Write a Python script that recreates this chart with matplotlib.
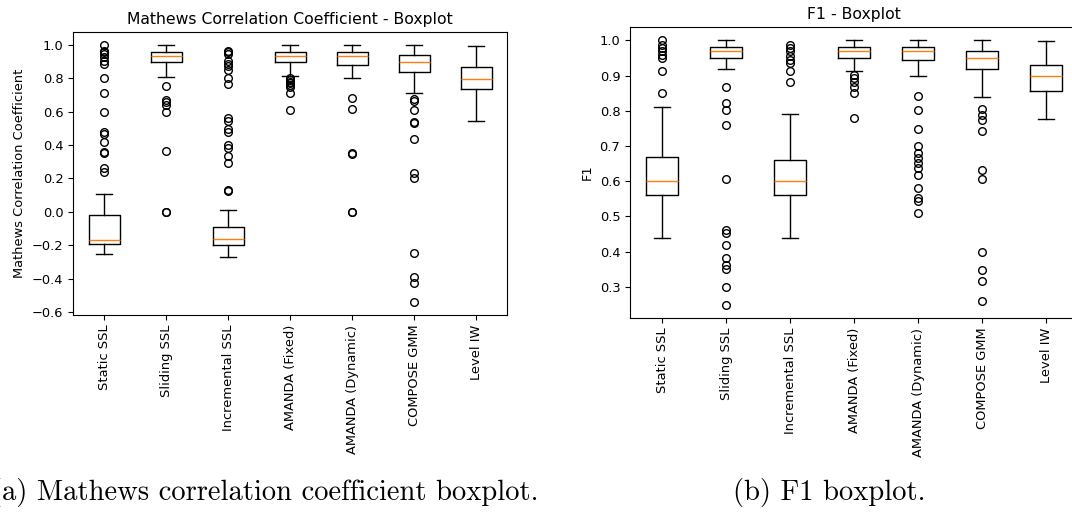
import matplotlib.pyplot as plt

methods = ["Static SSL", "Sliding SSL", "Incremental SSL", "AMANDA (Fixed)",
           "AMANDA (Dynamic)", "COMPOSE GMM", "Level IW"]

# Mathews correlation coefficient - box statistics per method
mcc_whislo = [-0.25, 0.81, -0.27, 0.815, 0.80, 0.71, 0.545]
mcc_q1 = [-0.19, 0.90, -0.20, 0.90, 0.88, 0.835, 0.735]
mcc_med = [-0.17, 0.935, -0.16, 0.935, 0.935, 0.895, 0.795]
mcc_q3 = [-0.02, 0.96, -0.09, 0.96, 0.96, 0.94, 0.87]
mcc_whishi = [0.105, 1.0, 0.012, 1.0, 1.0, 1.0, 0.995]
mcc_fliers = [
    [1.0, 0.965, 0.955, 0.945, 0.925, 0.905, 0.885, 0.80, 0.71, 0.60,
     0.48, 0.465, 0.42, 0.36, 0.35, 0.26, 0.24],
    [0.755, 0.67, 0.66, 0.64, 0.595, 0.365, 0.0, 0.0],
    [0.965, 0.955, 0.945, 0.905, 0.885, 0.875, 0.85, 0.80, 0.765, 0.565,
     0.545, 0.495, 0.48, 0.40, 0.385, 0.335, 0.295, 0.13, 0.125],
    [0.80, 0.79, 0.78, 0.77, 0.76, 0.75, 0.71, 0.61],
    [0.68, 0.615, 0.35, 0.345, 0.0, 0.0],
    [0.675, 0.665, 0.61, 0.54, 0.535, 0.435, 0.235, 0.20, -0.245, -0.39,
     -0.425, -0.54],
    [],
]

# F1 score - box statistics per method
f1_whislo = [0.44, 0.92, 0.44, 0.912, 0.90, 0.839, 0.777]
f1_q1 = [0.56, 0.95, 0.56, 0.95, 0.945, 0.92, 0.857]
f1_med = [0.60, 0.969, 0.60, 0.969, 0.969, 0.95, 0.899]
f1_q3 = [0.669, 0.981, 0.661, 0.981, 0.981, 0.969, 0.929]
f1_whishi = [0.81, 1.0, 0.79, 1.0, 1.0, 1.0, 0.997]
f1_fliers = [
    [1.0, 0.988, 0.978, 0.969, 0.959, 0.95, 0.912, 0.852],
    [0.869, 0.822, 0.803, 0.759, 0.607, 0.462, 0.453, 0.418, 0.382, 0.363,
     0.35, 0.30, 0.249],
    [0.986, 0.978, 0.969, 0.956, 0.945, 0.936, 0.912, 0.882],
    [0.902, 0.893, 0.881, 0.867, 0.85, 0.779],
    [0.841, 0.803, 0.749, 0.699, 0.68, 0.666, 0.652, 0.637, 0.618, 0.58,
     0.552, 0.543, 0.51],
    [0.805, 0.789, 0.775, 0.742, 0.633, 0.607, 0.398, 0.349, 0.318, 0.259],
    [],
]


def make_stats(lo, q1, med, q3, hi, fliers):
    stats = []
    for i, name in enumerate(methods):
        stats.append({"label": name, "whislo": lo[i], "q1": q1[i],
                      "med": med[i], "q3": q3[i], "whishi": hi[i],
                      "fliers": fliers[i]})
    return stats


def draw_box(ax, stats, title, ylabel):
    ax.bxp(stats, flierprops={"marker": "o", "markersize": 5.5,
                              "markerfacecolor": "none"})
    ax.set_title(title)
    ax.set_ylabel(ylabel)
    ax.tick_params(axis="x", labelrotation=90)


def main():
    plt.rcParams["font.size"] = 9.35
    fig = plt.figure(figsize=(10.72, 5.13), dpi=100)

    ax1 = fig.add_axes([0.0681, 0.386, 0.4049, 0.5517])
    draw_box(ax1, make_stats(mcc_whislo, mcc_q1, mcc_med, mcc_q3,
                             mcc_whishi, mcc_fliers),
             "Mathews Correlation Coefficient - Boxplot",
             "Mathews Correlation Coefficient")

    # right panel runs slightly past the page edge
    ax2 = fig.add_axes([0.5877, 0.380, 0.418, 0.567])
    draw_box(ax2, make_stats(f1_whislo, f1_q1, f1_med, f1_q3,
                             f1_whishi, f1_fliers),
             "F1 - Boxplot", "F1")

    # sub-figure captions (the left one is clipped by the page edge)
    fig.text(0.247, 0.0253, "(a) Mathews correlation coefficient boxplot.",
             family="cmr10", fontsize=20.6, ha="center", va="baseline")
    fig.text(0.7735, 0.0253, "(b) F1 boxplot.",
             family="cmr10", fontsize=20.6, ha="center", va="baseline")

    fig.savefig("out.png", dpi=100)


if __name__ == "__main__":
    main()
